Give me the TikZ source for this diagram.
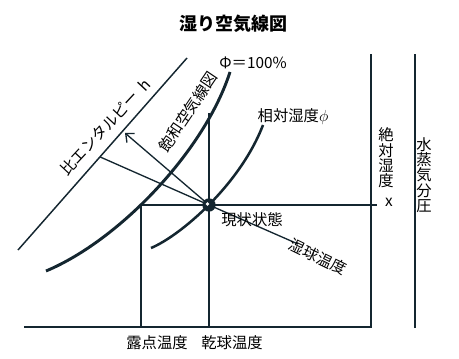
\documentclass[tikz,border=0pt]{standalone}
\usepackage{fontspec}
\usepackage{tikz}
\usetikzlibrary{arrows.meta,calc}
\newfontfamily\cjk{Noto Sans CJK JP}
\definecolor{lineC}{RGB}{20,38,48}

\begin{document}
\begin{tikzpicture}[
        x=0.75pt, y=-0.75pt,
        every node/.style={font=\cjk\fontsize{11.5}{11.5}\selectfont, inner sep=0pt},
        axis/.style={draw=lineC, line width=1.6pt},
        guide/.style={draw=lineC, line width=0.8pt},
        curve/.style={draw=lineC, line width=2.2pt},
        arrow/.style={-{Straight Barb[length=5pt,width=9pt]}, draw=lineC, line width=1pt},
        state/.style={circle, fill=lineC, minimum size=10pt},
        vlabel/.style={align=center, text width=1em}
    ]
        \useasboundingbox (0,0) rectangle (459,359);

        % Title
        \node[font=\cjk\bfseries\fontsize{13.5}{13.5}\selectfont] (title) at (233,24) {湿り空気線図};

        % Axes
        \coordinate (o) at (24,327);
        \coordinate (xr) at (371,327);
        \coordinate (xt) at (371,54);
        \coordinate (pb) at (415,328);
        \coordinate (pt) at (415,54);
        \draw[axis] (o) -- (xr) -- (xt);
        \draw[axis] (pb) -- (pt);

        % Guide lines
        \coordinate (dew) at (141,327);
        \coordinate (dry) at (209,327);
        \coordinate (drytop) at (209,113);
        \coordinate (hx) at (377,205);
        \draw[guide] (dew) |- (hx);
        \draw[guide] (dry) -- (drytop);

        % Enthalpy line
        \coordinate (h0) at (18,250);
        \coordinate (h1) at (187,58);
        \coordinate (hs) at ($(h0)!0.485!(h1)$);
        \draw[draw=lineC, line width=1.1pt] (h0) -- (h1);

        % Curves
        \coordinate (sat0) at (46,271);
        \coordinate (sat1) at (230,72);
        \coordinate (rh0) at (151,248);
        \coordinate (rh1) at (263,125);
        \draw[curve] (sat0) .. controls (120,240) and (205,150) .. (sat1);
        \draw[curve, line width=1.9pt] (rh0) .. controls (180,236) and (240,185) .. (rh1);

        % State point
        \node[state] (s) at (209,205) {};
        \coordinate (wb) at (298,244);
        \coordinate (at) at (125,133);
        \draw[draw=lineC, line width=1pt] (hs) -- (s.center) -- (wb);
        \draw[arrow] (s.center) -- (at);
        \fill[white] ($(s.center)+(-1.5,-1)$) circle (1.4pt);

        % Labels
        \node (phi100) at (253,63) {Φ＝100\%};
        \node[rotate=56] (satlab) at (188,112) {飽和空気線図};
        \node[rotate=47] (hlab) at (105,127) {比エンタルピー\ \ h};
        \node (rhlab) at (293,117) {相対湿度$\phi$};
        \node (slab) at (252,220) {現状状態};
        \node[rotate=-26] (wblab) at (318,257) {湿球温度};
        \node (dewlab) at (157,343) {露点温度};
        \node (drylab) at (232,343) {乾球温度};
        \node[vlabel] (xlab) at (385,158) {絶\\対\\湿\\度};
        \node (xsym) at (389,202) {x};
        \node[vlabel] (plab) at (423,175) {水\\蒸\\気\\分\\圧};
    \end{tikzpicture}
\end{document}
